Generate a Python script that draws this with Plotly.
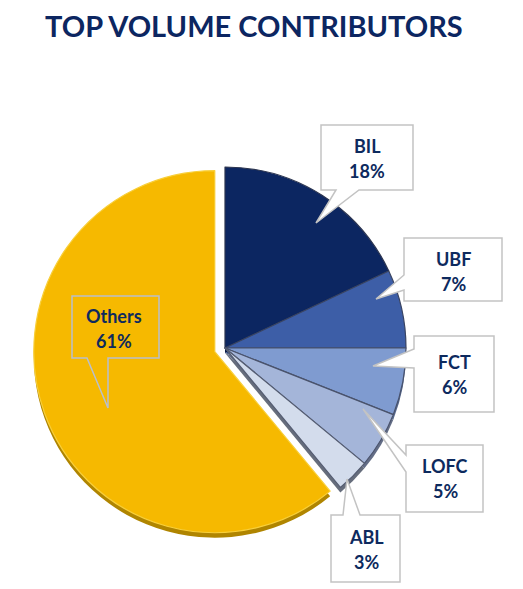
import plotly.graph_objects as go

W, H = 523, 589

labels = ["BIL", "UBF", "FCT", "LOFC", "ABL", "Others"]
values = [18, 7, 6, 5, 3, 61]
pct_text = ["18%", "7%", "6%", "5%", "3%", "61%"]
colors = ["#0c2661", "#3d5ea7", "#7f9bd0", "#a4b5d9", "#d3dcec", "#f6b900"]
shadow_colors = ["#081a45", "#2a4684", "#56688c", "#636d86", "#666d7c", "#b08500"]
line_colors = ["#2c3550", "#3a4563", "#48526d", "#4a536c", "#555d72", "#f8cf3a"]
pulls = [0, 0, 0, 0, 0, 0.06]

# pie geometry (pixels)
cx, cy, r = 225, 348, 181
maxpull = max(pulls)
half = r * (1 + maxpull)


def dom(dx=0, dy=0):
    return dict(
        x=[(cx + dx - half) / W, (cx + dx + half) / W],
        y=[1 - (cy + dy + half) / H, 1 - (cy + dy - half) / H],
    )


fig = go.Figure()
fig.add_trace(go.Pie(
    labels=labels, values=values, sort=False, direction="clockwise", rotation=0,
    pull=pulls, domain=dom(0, 5), textinfo="none", hoverinfo="skip",
    marker=dict(colors=shadow_colors, line=dict(width=0)), showlegend=False,
))
fig.add_trace(go.Pie(
    labels=labels, values=values, sort=False, direction="clockwise", rotation=0,
    pull=pulls, domain=dom(0, 0), textinfo="none",
    marker=dict(colors=colors, line=dict(color=line_colors, width=1.2)), showlegend=False,
))


def P(x, y):
    return f"{x / W:.5f},{1 - y / H:.5f}"


def path(pts):
    return "M " + " L ".join(P(x, y) for x, y in pts) + " Z"


# callout boxes (pixel polygons): box with wedge pointer
callouts = {
    "BIL": dict(pts=[(321, 125), (413, 125), (413, 190), (359, 190), (316, 223), (336, 190), (321, 190)],
                c=(367, 146), fill="white", border="#c3c3c3"),
    "UBF": dict(pts=[(404, 238), (502, 238), (502, 301), (404, 301), (404, 290), (376, 299), (404, 275)],
                c=(453, 259), fill="white", border="#c3c3c3"),
    "FCT": dict(pts=[(414, 336), (494, 336), (494, 412), (414, 412), (414, 368), (373, 366), (414, 349)],
                c=(454, 362), fill="white", border="#c3c3c3"),
    "LOFC": dict(pts=[(406, 445), (483, 445), (483, 512), (406, 512), (406, 472), (363, 409), (406, 455)],
                 c=(445, 466), fill="white", border="#c3c3c3"),
    "ABL": dict(pts=[(331, 515), (343, 515), (347, 479), (360, 515), (400, 515), (400, 582), (331, 582)],
                c=(366, 537), fill="white", border="#c3c3c3"),
    "Others": dict(pts=[(72, 296), (159, 296), (159, 358), (108, 358), (108, 408), (87, 358), (72, 358)],
                   c=(114, 316), fill="rgba(0,0,0,0)", border="#b9bfcc"),
}

shapes = []
annotations = []
navy = "#0d2a5e"
for lab, pc in zip(labels, pct_text):
    co = callouts[lab]
    shapes.append(dict(type="path", xref="paper", yref="paper", path=path(co["pts"]),
                       fillcolor=co["fill"], line=dict(color=co["border"], width=1.5), layer="above"))
    x0, y0 = co["c"]
    annotations.append(dict(x=x0 / W, y=1 - y0 / H, xref="paper", yref="paper", text=f"<b>{lab}</b>",
                            xanchor="center", yanchor="middle",
                            showarrow=False, font=dict(family="Lato", size=18, color=navy)))
    annotations.append(dict(x=x0 / W, y=1 - (y0 + 25) / H, xref="paper", yref="paper", text=f"<b>{pc}</b>",
                            xanchor="center", yanchor="middle",
                            showarrow=False, font=dict(family="Lato", size=18, color=navy)))

annotations.append(dict(x=254 / W, y=1 - 26 / H, xref="paper", yref="paper",
                        xanchor="center", yanchor="middle",
                        text="<b>TOP VOLUME CONTRIBUTORS</b>", showarrow=False,
                        font=dict(family="Lato", size=29, color="#0c2661")))

fig.update_layout(
    width=W, height=H, margin=dict(l=0, r=0, t=0, b=0),
    paper_bgcolor="white", plot_bgcolor="white",
    shapes=shapes, annotations=annotations,
)

fig.write_html("out.html", config={"displayModeBar": False},
               post_script="document.body.style.margin='0';")
